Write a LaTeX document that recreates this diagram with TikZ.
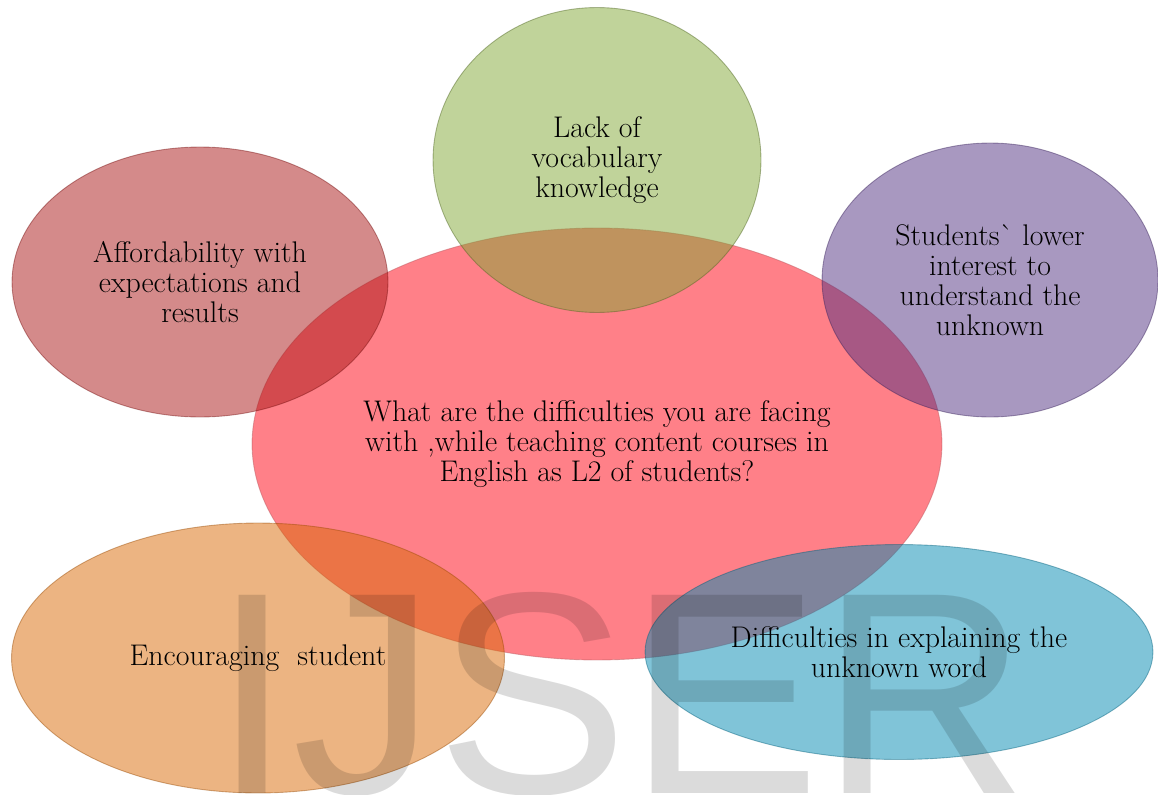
\documentclass[tikz,border=0pt]{standalone}
\usepackage{fontspec}
\newfontfamily\labelfont{Latin Modern Roman}[Ligatures=TeXOff]
\newfontfamily\markfont{Liberation Sans}
\usepackage{xcolor}
\usetikzlibrary{shapes.geometric}

% fills, laid over the centre at half strength
\definecolor{hubred}{RGB}{255,128,136}
\definecolor{costred}{RGB}{169,21,21}
\definecolor{vocabgreen}{RGB}{129,167,53}
\definecolor{interestviolet}{RGB}{81,49,129}
\definecolor{cheerorange}{RGB}{217,105,5}
\definecolor{wordblue}{RGB}{1,137,177}

\begin{document}
\begin{tikzpicture}[
    x=0.02cm, y=-0.02cm,
    hub/.style={ellipse, draw=hubred!75!black, draw opacity=0.5, fill=hubred, line width=0.5pt, inner sep=0pt, align=center, font=\labelfont\fontsize{17}{17}\selectfont},
    idea/.style={ellipse, fill opacity=0.5, draw opacity=0.45, text opacity=1, line width=0.5pt, inner sep=0pt, align=center, font=\labelfont\fontsize{17}{17}\selectfont},
    wmark/.style={inner sep=0pt, anchor=base west, text=black, text opacity=0.14, font=\markfont\fontsize{164}{164}\selectfont}
]
\useasboundingbox (0,0) rectangle (1158,794);
\clip (0,0) rectangle (1158,794);

% Centre: the question
\node[hub, minimum width=13.8cm, minimum height=8.64cm] (question) at (597,444)
    {What are the difficulties you are facing\\with ,while teaching content courses in\\English as L2 of students?};

% Ring of answers
\node[idea, fill=vocabgreen, draw=vocabgreen!60!black, minimum width=6.56cm, minimum height=6.1cm] (vocab) at (597,160)
    {Lack of\\vocabulary\\knowledge};
\node[idea, fill=costred, draw=costred!70!black, minimum width=7.52cm, minimum height=5.4cm] (afford) at (200,282)
    {Affordability with\\expectations and\\results};
\node[idea, fill=interestviolet, draw=interestviolet!70!black, minimum width=6.72cm, minimum height=5.48cm] (interest) at (990,280)
    {Students` lower\\interest to\\understand the\\unknown};
\node[idea, fill=cheerorange, draw=cheerorange!70!black, minimum width=9.86cm, minimum height=5.4cm] (cheer) at (258,658)
    {Encouraging\ \ student};
\node[idea, fill=wordblue, draw=wordblue!70!black, minimum width=10.16cm, minimum height=4.3cm] (explain) at (899,652)
    {Difficulties in explaining the\\unknown word};

% Watermark
\node[wmark] (ijser) at (212,793) {IJSER};

\end{tikzpicture}
\end{document}
